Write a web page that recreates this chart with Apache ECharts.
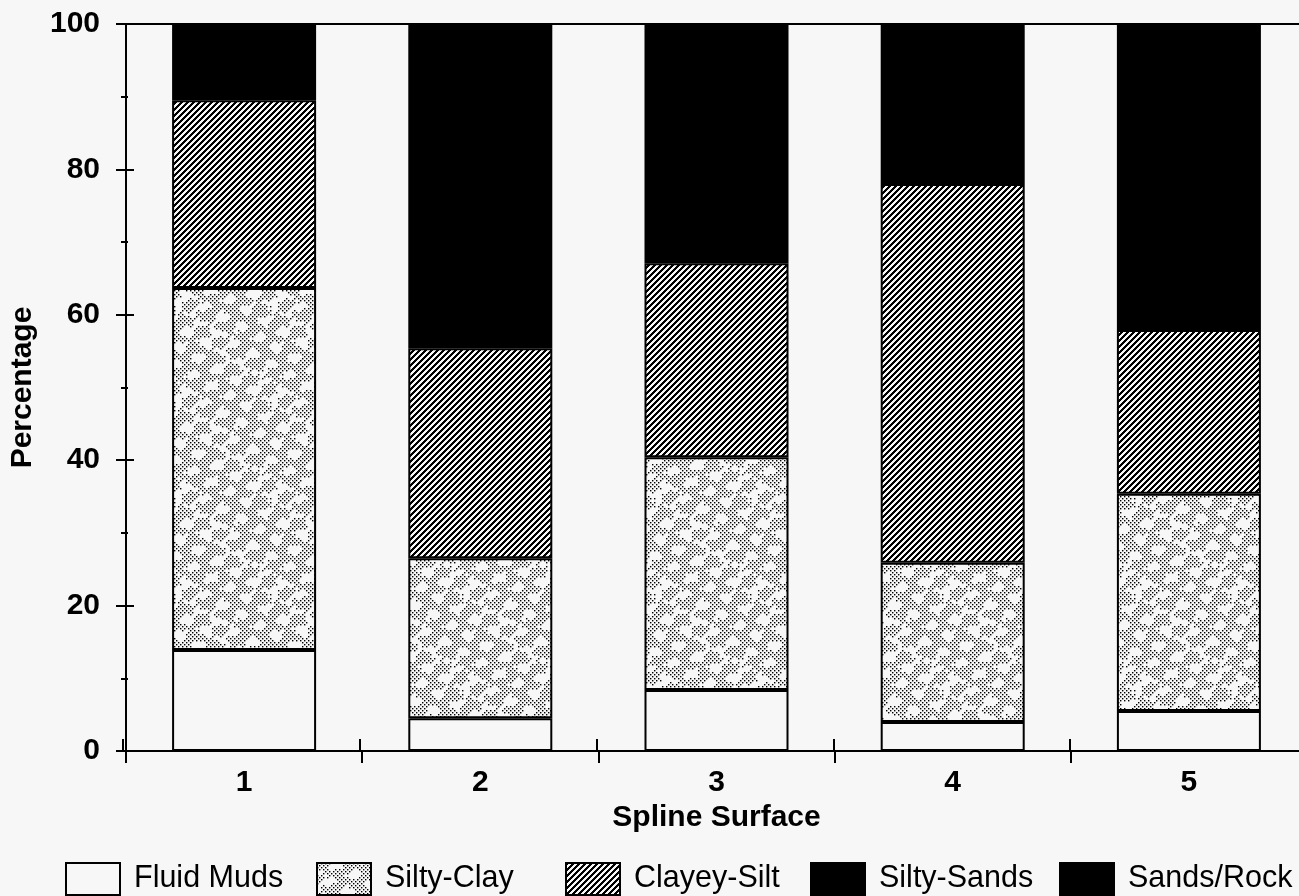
<!DOCTYPE html>
<html lang="en">
<head>
    <meta charset="UTF-8">
    <title>Spline Surface</title>
    <script src="https://cdn.jsdelivr.net/npm/echarts@6/dist/echarts.min.js"></script>
    <style>
        html, body { margin: 0; padding: 0; background: #f7f7f7; overflow: hidden; }
        /* plot runs a little past the right edge, as in the scan */
        #main { width: 1320px; height: 896px; }
    </style>
</head>
<body>
<div id="main"></div>
<script type="text/javascript">
    // data
    var surfaces = ['1', '2', '3', '4', '5'];
    var fluidMuds   = [13.9, 4.5, 8.4, 4.0, 5.5];
    var siltyClay   = [49.8, 22.0, 32.0, 21.9, 29.9];
    var clayeySilt  = [25.8, 28.9, 26.7, 52.1, 22.5];
    var siltySands  = [10.5, 44.6, 32.9, 22.0, 42.1];
    // both black in the picture, no visible split
    var sandsRock   = [0, 0, 0, 0, 0];
    var yTicks = { min: 0, max: 100, step: 20 };
    var legendNames = ['Fluid Muds', 'Silty-Clay', 'Clayey-Silt', 'Silty-Sands', 'Sands/Rock'];

    var bg = '#f7f7f7';

    // stipple texture for Silty-Clay
    function stipple() {
        var n = 96, c = document.createElement('canvas');
        c.width = n; c.height = n;
        var g = c.getContext('2d');
        g.fillStyle = bg; g.fillRect(0, 0, n, n);
        g.fillStyle = '#000';
        var t = 2 * Math.PI / n;
        for (var y = 0; y < n; y += 2) {
            for (var x = (y / 2) % 2 ? 2 : 0; x < n; x += 4) {
                var v = Math.sin(t * (4 * x + 2 * y)) + Math.sin(t * (3 * x - 5 * y) + 1.3) + Math.cos(t * 2 * (x + 3 * y) + 0.4);
                var h = ((x * 7 + y * 13) % 11) / 11;
                if (v + h * 1.6 > 0.1) g.fillRect(x, y, 1.4, 1.4);
            }
        }
        return c;
    }
    // diagonal hatch for Clayey-Silt
    function hatch() {
        var n = 6, c = document.createElement('canvas');
        c.width = n; c.height = n;
        var g = c.getContext('2d');
        g.fillStyle = bg; g.fillRect(0, 0, n, n);
        g.fillStyle = '#000';
        for (var y = 0; y < n; y++)
            for (var x = 0; x < n; x++)
                if ((x + y) % n < 3) g.fillRect(x, y, 1, 1);
        return c;
    }

    var font = 'Liberation Sans, Arial, sans-serif';
    var border = { borderColor: '#000', borderWidth: 2 };
    var tickLine = { color: '#000', width: 2 };

    function bar(name, data, color) {
        return {
            name: name, type: 'bar', stack: 'total', data: data,
            xAxisIndex: 0, yAxisIndex: 0,
            barWidth: 144,
            itemStyle: Object.assign({ color: color }, border)
        };
    }

    // one legend block per item, placed like the reference
    var legendLeft = [60, 311, 560, 805, 1054];
    var legends = legendNames.map(function (nm, i) {
        return {
            left: legendLeft[i], top: 857,
            itemWidth: 54, itemHeight: 32,
            icon: 'rect',
            textStyle: { fontSize: 30.5, color: '#000', fontFamily: font, padding: [0, 0, 0, 9] },
            data: [nm]
        };
    });

    var plot = { left: 123, top: 24, width: 1184, height: 727, containLabel: false };

    var chart = echarts.init(document.getElementById('main'));
    chart.setOption({
        animation: false,
        backgroundColor: bg,
        textStyle: { fontFamily: font },
        // second grid on the same rect only carries the inward half of the ticks
        grid: [plot, Object.assign({}, plot)],
        legend: legends,
        xAxis: [{
            gridIndex: 0, type: 'category', data: surfaces, position: 'bottom',
            name: 'Spline Surface', nameLocation: 'middle', nameGap: 47,
            nameTextStyle: { fontSize: 30, fontWeight: 'bold', color: '#000' },
            axisLine: { show: true, lineStyle: tickLine },
            axisTick: { show: true, interval: 0, length: 12, lineStyle: tickLine },
            axisLabel: { fontSize: 30, fontWeight: 'bold', color: '#000', margin: 17 }
        }, {
            gridIndex: 0, type: 'category', data: surfaces, position: 'top',
            axisLine: { show: true, lineStyle: tickLine },
            axisTick: { show: false }, axisLabel: { show: false }
        }, {
            gridIndex: 1, type: 'category', data: surfaces, position: 'bottom',
            axisLine: { show: false },
            axisTick: { show: true, interval: 0, inside: true, length: 12, lineStyle: tickLine },
            axisLabel: { show: false }
        }],
        yAxis: [{
            gridIndex: 0, type: 'value', min: yTicks.min, max: yTicks.max, interval: yTicks.step,
            name: 'Percentage', nameLocation: 'middle', nameGap: 88, nameRotate: 90,
            nameTextStyle: { fontSize: 30, fontWeight: 'bold', color: '#000' },
            axisLine: { show: true, lineStyle: tickLine },
            axisTick: { show: true, length: 10, lineStyle: tickLine },
            minorTick: { show: true, splitNumber: 2, length: 5, lineStyle: tickLine },
            splitLine: { show: false },
            axisLabel: { fontSize: 30, fontWeight: 'bold', color: '#000', margin: 26 }
        }, {
            gridIndex: 1, type: 'value', min: yTicks.min, max: yTicks.max, interval: yTicks.step, position: 'left',
            axisLine: { show: false },
            axisTick: { show: true, inside: true, length: 11, lineStyle: tickLine },
            minorTick: { show: true, splitNumber: 2, length: 5, lineStyle: tickLine },
            splitLine: { show: false },
            axisLabel: { show: false }
        }],
        series: [
            bar('Fluid Muds', fluidMuds, bg),
            bar('Silty-Clay', siltyClay, { image: stipple(), repeat: 'repeat' }),
            bar('Clayey-Silt', clayeySilt, { image: hatch(), repeat: 'repeat' }),
            bar('Silty-Sands', siltySands, '#000'),
            bar('Sands/Rock', sandsRock, '#000')
        ]
    });
</script>
</body>
</html>
